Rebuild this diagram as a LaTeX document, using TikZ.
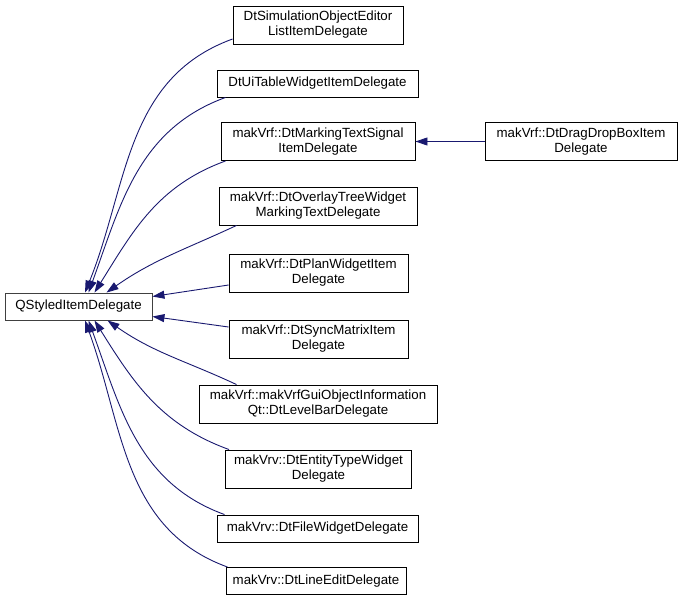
\documentclass[tikz,border=0pt]{standalone}
\usepackage{fontspec}
\setmainfont{Liberation Sans}
\usepackage{tikz}
\usetikzlibrary{arrows.meta}
\definecolor{edgeBlue}{RGB}{25,25,112}
\definecolor{boxGray}{RGB}{64,64,64}

\begin{document}
\begin{tikzpicture}[
  x=1pt,y=1pt,
  font=\fontsize{13.3}{15}\selectfont,
  cls/.style={draw=black,line width=0.9pt,fill=white,align=center,inner sep=0pt,minimum height=27pt},
  cls2/.style={cls,minimum height=38pt},
  root/.style={cls,draw=boxGray},
  inh/.style={{Triangle[length=12pt,width=8pt]}-,edgeBlue,line width=0.9pt},
]
\useasboundingbox (0,0) rectangle (683,-597);

% base class
\node[root,minimum width=147pt] (base) at (78.5,-306.5) {QStyledItemDelegate};

% derived classes
\node[cls2,minimum width=170pt] (simed) at (318,-25) {DtSimulationObjectEditor\\ListItemDelegate};
\node[cls,minimum width=201pt] (uitab) at (317.5,-83.5) {DtUiTableWidgetItemDelegate};
\node[cls2,minimum width=194pt] (marksig) at (318,-141.5) {makVrf::DtMarkingTextSignal\\ItemDelegate};
\node[cls2,minimum width=192pt] (dragbox) at (581,-141.5) {makVrf::DtDragDropBoxItem\\Delegate};
\node[cls2,minimum width=198pt] (overlay) at (318,-206) {makVrf::DtOverlayTreeWidget\\MarkingTextDelegate};
\node[cls2,minimum width=179pt] (plan) at (318.5,-273) {makVrf::DtPlanWidgetItem\\Delegate};
\node[cls2,minimum width=179pt] (sync) at (318.5,-339) {makVrf::DtSyncMatrixItem\\Delegate};
\node[cls2,minimum width=238pt] (levelbar) at (318,-404) {makVrf::makVrfGuiObjectInformation\\Qt::DtLevelBarDelegate};
\node[cls2,minimum width=186pt] (entity) at (318.5,-469) {makVrv::DtEntityTypeWidget\\Delegate};
\node[cls,minimum width=201pt] (filew) at (317.5,-528.5) {makVrv::DtFileWidgetDelegate};
\node[cls,minimum width=180pt] (lineed) at (316,-581) {makVrv::DtLineEditDelegate};

% inheritance edges
\draw[inh] ([xshift=6.5pt]base.north) to[out=68,in=200] ([yshift=-14pt]simed.west);
\draw[inh] ([xshift=10pt]base.north) to[out=70,in=200] ([xshift=9pt]uitab.south west);
\draw[inh] ([xshift=16pt]base.north) to[out=58,in=200] ([xshift=5pt]marksig.south west);
\draw[inh] ([xshift=28pt]base.north) to[out=35,in=205] ([xshift=18pt]overlay.south west);
\draw[inh] ([yshift=10pt]base.east) -- ([yshift=-12pt]plan.west);
\draw[inh] ([yshift=-10pt]base.east) -- ([yshift=12pt]sync.west);
\draw[inh] ([xshift=29pt]base.south) to[out=-35,in=155] ([xshift=38pt]levelbar.north west);
\draw[inh] ([xshift=16pt]base.south) to[out=-58,in=160] ([xshift=4pt]entity.north west);
\draw[inh] ([xshift=10pt]base.south) to[out=-70,in=160] ([xshift=8pt]filew.north west);
\draw[inh] ([xshift=6.5pt]base.south) to[out=-70,in=160] ([xshift=2pt]lineed.north west);
\draw[inh] (marksig.east) -- (dragbox.west);
\end{tikzpicture}
\end{document}
